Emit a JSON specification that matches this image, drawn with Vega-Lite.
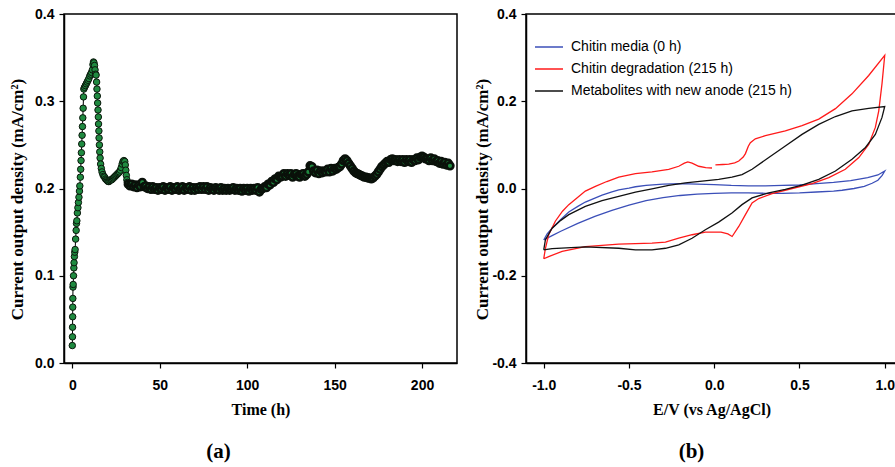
{
  "$schema": "https://vega.github.io/schema/vega-lite/v6.json",
  "padding": {"left": 7, "top": 6, "right": 0, "bottom": 0},
  "background": "white",
  "config": {
    "view": {"stroke": "black", "strokeWidth": 1.5},
    "axis": {
      "grid": false, "domainColor": "black", "domainWidth": 1.5, "tickColor": "black", "tickWidth": 1.2, "tickSize": 5,
      "labelFont": "Liberation Sans", "labelFontWeight": "bold", "labelFontSize": 14, "labelColor": "black",
      "titleFont": "Liberation Serif", "titleFontWeight": "bold", "titleFontSize": 16, "titleColor": "black"
    },
    "axisX": {"labelPadding": 10, "titlePadding": 9},
    "axisY": {"labelPadding": 5}
  },
  "datasets": {
    "a": [
      {"t":0,"v":0.020},{"t":0.1,"v":0.030},{"t":0.15,"v":0.041},{"t":0.2,"v":0.053},{"t":0.25,"v":0.064},{"t":0.3,"v":0.074},{"t":0.4,"v":0.087},{"t":0.5,"v":0.090},{"t":0.7,"v":0.100},{"t":0.9,"v":0.109},{"t":1.0,"v":0.115},{"t":1.2,"v":0.122},{"t":1.4,"v":0.127},{"t":1.6,"v":0.130},{"t":1.9,"v":0.142},{"t":2.2,"v":0.152},{"t":2.4,"v":0.160},{"t":2.6,"v":0.163},{"t":2.9,"v":0.172},{"t":3.2,"v":0.178},{"t":3.5,"v":0.184},{"t":3.8,"v":0.190},{"t":4.1,"v":0.197},{"t":4.3,"v":0.203},{"t":4.6,"v":0.213},{"t":4.8,"v":0.222},{"t":5.0,"v":0.232},{"t":5.2,"v":0.241},{"t":5.4,"v":0.251},{"t":5.6,"v":0.261},{"t":5.8,"v":0.271},{"t":6.0,"v":0.281},{"t":6.2,"v":0.292},{"t":6.4,"v":0.305},{"t":6.6,"v":0.314},{"t":7.0,"v":0.316},{"t":7.5,"v":0.318},{"t":8.0,"v":0.320},{"t":8.5,"v":0.322},{"t":9.0,"v":0.324},{"t":9.5,"v":0.326},{"t":10.0,"v":0.329},{"t":10.5,"v":0.331},{"t":11.0,"v":0.333},{"t":11.5,"v":0.336},{"t":11.8,"v":0.342},{"t":12.1,"v":0.345},{"t":12.4,"v":0.344},{"t":12.7,"v":0.341},{"t":13.0,"v":0.336},{"t":13.3,"v":0.331},{"t":13.6,"v":0.330},{"t":13.9,"v":0.322},{"t":14.1,"v":0.314},{"t":14.3,"v":0.306},{"t":14.5,"v":0.298},{"t":14.7,"v":0.290},{"t":14.9,"v":0.282},{"t":15.0,"v":0.274},{"t":15.2,"v":0.266},{"t":15.3,"v":0.258},{"t":15.5,"v":0.250},{"t":15.7,"v":0.242},{"t":15.9,"v":0.235},{"t":16.2,"v":0.228},{"t":16.6,"v":0.223},{"t":17.0,"v":0.219},{"t":17.5,"v":0.216},{"t":18.0,"v":0.214},{"t":18.5,"v":0.213},{"t":19.0,"v":0.211},{"t":19.5,"v":0.210},{"t":20.0,"v":0.209},{"t":20.5,"v":0.208},{"t":21.0,"v":0.208},{"t":21.5,"v":0.209},{"t":22.0,"v":0.210},{"t":22.5,"v":0.210},{"t":23.0,"v":0.211},{"t":23.5,"v":0.212},{"t":24.0,"v":0.213},{"t":24.5,"v":0.214},{"t":25.0,"v":0.215},{"t":25.5,"v":0.216},{"t":26.0,"v":0.217},{"t":26.5,"v":0.218},{"t":27.0,"v":0.219},{"t":27.5,"v":0.221},{"t":28.0,"v":0.224},{"t":28.5,"v":0.228},{"t":29.0,"v":0.231},{"t":29.5,"v":0.232},{"t":30.0,"v":0.231},{"t":30.3,"v":0.227},{"t":30.6,"v":0.221},{"t":30.9,"v":0.215},{"t":31.2,"v":0.210},{"t":31.5,"v":0.207},{"t":32,"v":0.205},{"t":33,"v":0.203},{"t":34,"v":0.205},{"t":35,"v":0.202},{"t":36,"v":0.204},{"t":37,"v":0.201},{"t":38,"v":0.204},{"t":39,"v":0.202},{"t":40,"v":0.207},{"t":41,"v":0.202},
      {"t":42,"v":0.203},{"t":43,"v":0.200},{"t":44,"v":0.202},{"t":45,"v":0.199},{"t":46,"v":0.202},{"t":47,"v":0.199},{"t":48,"v":0.201},{"t":49,"v":0.198},{"t":50,"v":0.201},{"t":51,"v":0.199},{"t":52,"v":0.202},{"t":53,"v":0.198},{"t":54,"v":0.201},{"t":55,"v":0.199},{"t":56,"v":0.202},{"t":57,"v":0.198},{"t":58,"v":0.201},{"t":59,"v":0.199},{"t":60,"v":0.202},{"t":61,"v":0.198},{"t":62,"v":0.200},{"t":63,"v":0.202},{"t":64,"v":0.198},{"t":65,"v":0.201},{"t":66,"v":0.199},{"t":67,"v":0.202},{"t":68,"v":0.198},{"t":69,"v":0.201},{"t":70,"v":0.198},{"t":71,"v":0.201},{"t":72,"v":0.199},{"t":73,"v":0.202},{"t":74,"v":0.199},{"t":75,"v":0.202},{"t":76,"v":0.199},{"t":77,"v":0.202},{"t":78,"v":0.198},{"t":79,"v":0.201},{"t":80,"v":0.199},{"t":81,"v":0.198},{"t":82,"v":0.201},{"t":83,"v":0.199},{"t":84,"v":0.198},{"t":85,"v":0.201},{"t":86,"v":0.198},{"t":87,"v":0.200},{"t":88,"v":0.198},{"t":89,"v":0.200},{"t":90,"v":0.198},{"t":91,"v":0.199},{"t":92,"v":0.201},{"t":93,"v":0.198},{"t":94,"v":0.200},{"t":95,"v":0.198},{"t":96,"v":0.200},{"t":97,"v":0.197},{"t":98,"v":0.200},{"t":99,"v":0.198},{"t":100,"v":0.200},{"t":101,"v":0.197},{"t":102,"v":0.200},{"t":103,"v":0.198},{"t":104,"v":0.200},{"t":105,"v":0.198},{"t":106,"v":0.201},{"t":107,"v":0.196},{"t":108,"v":0.199},{"t":109,"v":0.200},{"t":110,"v":0.202},{"t":111,"v":0.201},{"t":112,"v":0.205},{"t":113,"v":0.204},{"t":114,"v":0.208},{"t":115,"v":0.207},{"t":116,"v":0.211},{"t":117,"v":0.210},{"t":118,"v":0.214},{"t":119,"v":0.213},{"t":120,"v":0.214},{"t":121,"v":0.217},{"t":122,"v":0.214},{"t":123,"v":0.217},{"t":124,"v":0.215},{"t":125,"v":0.217},{"t":126,"v":0.213},{"t":127,"v":0.216},{"t":128,"v":0.217},{"t":129,"v":0.214},{"t":130,"v":0.213},{"t":131,"v":0.216},{"t":132,"v":0.217},{"t":133,"v":0.214},{"t":134,"v":0.216},{"t":135,"v":0.219},{"t":136,"v":0.226},{"t":137,"v":0.225},{"t":138,"v":0.220},{"t":139,"v":0.218},{"t":140,"v":0.221},{"t":141,"v":0.217},{"t":142,"v":0.220},{"t":143,"v":0.218},{"t":144,"v":0.220},{"t":145,"v":0.219},{"t":146,"v":0.222},{"t":147,"v":0.219},{"t":148,"v":0.223},{"t":149,"v":0.220},{"t":150,"v":0.223},{"t":151,"v":0.222},{"t":152,"v":0.224},{"t":153,"v":0.225},{"t":154,"v":0.228},{"t":155,"v":0.232},{"t":156,"v":0.234},{"t":157,"v":0.232},{"t":158,"v":0.229},{"t":159,"v":0.226},{"t":160,"v":0.223},{"t":161,"v":0.220},{"t":162,"v":0.218},{"t":163,"v":0.217},{"t":164,"v":0.216},{"t":165,"v":0.215},{"t":166,"v":0.214},{"t":167,"v":0.213},{"t":168,"v":0.213},{"t":169,"v":0.212},{"t":170,"v":0.212},{"t":171,"v":0.211},{"t":172,"v":0.212},{"t":173,"v":0.214},{"t":174,"v":0.216},{"t":175,"v":0.219},{"t":176,"v":0.222},{"t":177,"v":0.225},{"t":178,"v":0.227},{"t":179,"v":0.229},{"t":180,"v":0.231},{"t":181,"v":0.230},{"t":182,"v":0.233},{"t":183,"v":0.234},{"t":184,"v":0.232},{"t":185,"v":0.233},{"t":186,"v":0.231},{"t":187,"v":0.233},{"t":188,"v":0.231},{"t":189,"v":0.233},{"t":190,"v":0.230},{"t":191,"v":0.233},{"t":192,"v":0.231},{"t":193,"v":0.233},{"t":194,"v":0.230},{"t":195,"v":0.233},{"t":196,"v":0.232},{"t":197,"v":0.235},{"t":198,"v":0.233},{"t":199,"v":0.236},{"t":200,"v":0.237},{"t":201,"v":0.236},{"t":202,"v":0.234},{"t":203,"v":0.234},{"t":204,"v":0.232},{"t":205,"v":0.235},{"t":206,"v":0.232},{"t":207,"v":0.234},{"t":208,"v":0.231},{"t":209,"v":0.232},{"t":210,"v":0.229},{"t":211,"v":0.231},{"t":212,"v":0.228},{"t":213,"v":0.230},{"t":214,"v":0.227},{"t":215,"v":0.229},{"t":216,"v":0.226}
    ],
    "b": [
      {"s":"Chitin media (0 h)","i":0,"E":-1.0,"I":-0.118},{"s":"Chitin media (0 h)","i":1,"E":-0.98,"I":-0.104},{"s":"Chitin media (0 h)","i":2,"E":-0.951,"I":-0.091},{"s":"Chitin media (0 h)","i":3,"E":-0.9,"I":-0.071},{"s":"Chitin media (0 h)","i":4,"E":-0.853,"I":-0.054},{"s":"Chitin media (0 h)","i":5,"E":-0.8,"I":-0.041},{"s":"Chitin media (0 h)","i":6,"E":-0.756,"I":-0.031},{"s":"Chitin media (0 h)","i":7,"E":-0.7,"I":-0.022},{"s":"Chitin media (0 h)","i":8,"E":-0.658,"I":-0.015},{"s":"Chitin media (0 h)","i":9,"E":-0.6,"I":-0.008},{"s":"Chitin media (0 h)","i":10,"E":-0.56,"I":-0.003},{"s":"Chitin media (0 h)","i":11,"E":-0.5,"I":0.001},{"s":"Chitin media (0 h)","i":12,"E":-0.462,"I":0.004},{"s":"Chitin media (0 h)","i":13,"E":-0.4,"I":0.007},{"s":"Chitin media (0 h)","i":14,"E":-0.3,"I":0.010},{"s":"Chitin media (0 h)","i":15,"E":-0.2,"I":0.011},{"s":"Chitin media (0 h)","i":16,"E":-0.1,"I":0.010},{"s":"Chitin media (0 h)","i":17,"E":0.0,"I":0.009},{"s":"Chitin media (0 h)","i":18,"E":0.1,"I":0.007},{"s":"Chitin media (0 h)","i":19,"E":0.2,"I":0.006},{"s":"Chitin media (0 h)","i":20,"E":0.3,"I":0.006},{"s":"Chitin media (0 h)","i":21,"E":0.4,"I":0.007},{"s":"Chitin media (0 h)","i":22,"E":0.5,"I":0.008},{"s":"Chitin media (0 h)","i":23,"E":0.6,"I":0.011},{"s":"Chitin media (0 h)","i":24,"E":0.7,"I":0.014},{"s":"Chitin media (0 h)","i":25,"E":0.8,"I":0.018},{"s":"Chitin media (0 h)","i":26,"E":0.9,"I":0.025},{"s":"Chitin media (0 h)","i":27,"E":0.96,"I":0.031},{"s":"Chitin media (0 h)","i":28,"E":1.0,"I":0.040},{"s":"Chitin media (0 h)","i":29,"E":0.985,"I":0.030},{"s":"Chitin media (0 h)","i":30,"E":0.96,"I":0.019},{"s":"Chitin media (0 h)","i":31,"E":0.926,"I":0.012},{"s":"Chitin media (0 h)","i":32,"E":0.88,"I":0.005},{"s":"Chitin media (0 h)","i":33,"E":0.82,"I":0.0},{"s":"Chitin media (0 h)","i":34,"E":0.75,"I":-0.004},{"s":"Chitin media (0 h)","i":35,"E":0.7,"I":-0.006},{"s":"Chitin media (0 h)","i":36,"E":0.6,"I":-0.008},{"s":"Chitin media (0 h)","i":37,"E":0.5,"I":-0.010},{"s":"Chitin media (0 h)","i":38,"E":0.4,"I":-0.011},{"s":"Chitin media (0 h)","i":39,"E":0.3,"I":-0.011},{"s":"Chitin media (0 h)","i":40,"E":0.2,"I":-0.010},{"s":"Chitin media (0 h)","i":41,"E":0.1,"I":-0.010},{"s":"Chitin media (0 h)","i":42,"E":0.0,"I":-0.011},{"s":"Chitin media (0 h)","i":43,"E":-0.1,"I":-0.013},{"s":"Chitin media (0 h)","i":44,"E":-0.2,"I":-0.016},{"s":"Chitin media (0 h)","i":45,"E":-0.3,"I":-0.021},{"s":"Chitin media (0 h)","i":46,"E":-0.4,"I":-0.028},{"s":"Chitin media (0 h)","i":47,"E":-0.5,"I":-0.038},{"s":"Chitin media (0 h)","i":48,"E":-0.6,"I":-0.050},{"s":"Chitin media (0 h)","i":49,"E":-0.7,"I":-0.064},{"s":"Chitin media (0 h)","i":50,"E":-0.8,"I":-0.080},{"s":"Chitin media (0 h)","i":51,"E":-0.9,"I":-0.098},{"s":"Chitin media (0 h)","i":52,"E":-0.951,"I":-0.108},{"s":"Chitin media (0 h)","i":53,"E":-1.0,"I":-0.118},
      {"s":"Chitin degradation (215 h)","i":0,"E":-1.0,"I":-0.161},{"s":"Chitin degradation (215 h)","i":1,"E":-0.99,"I":-0.137},{"s":"Chitin degradation (215 h)","i":2,"E":-0.971,"I":-0.106},{"s":"Chitin degradation (215 h)","i":3,"E":-0.932,"I":-0.075},{"s":"Chitin degradation (215 h)","i":4,"E":-0.89,"I":-0.052},{"s":"Chitin degradation (215 h)","i":5,"E":-0.853,"I":-0.037},{"s":"Chitin degradation (215 h)","i":6,"E":-0.8,"I":-0.02},{"s":"Chitin degradation (215 h)","i":7,"E":-0.756,"I":-0.006},{"s":"Chitin degradation (215 h)","i":8,"E":-0.697,"I":0.005},{"s":"Chitin degradation (215 h)","i":9,"E":-0.63,"I":0.016},{"s":"Chitin degradation (215 h)","i":10,"E":-0.56,"I":0.026},{"s":"Chitin degradation (215 h)","i":11,"E":-0.462,"I":0.034},{"s":"Chitin degradation (215 h)","i":12,"E":-0.365,"I":0.038},{"s":"Chitin degradation (215 h)","i":13,"E":-0.267,"I":0.044},{"s":"Chitin degradation (215 h)","i":14,"E":-0.208,"I":0.051},{"s":"Chitin degradation (215 h)","i":15,"E":-0.175,"I":0.058},{"s":"Chitin degradation (215 h)","i":16,"E":-0.155,"I":0.061},{"s":"Chitin degradation (215 h)","i":17,"E":-0.13,"I":0.058},{"s":"Chitin degradation (215 h)","i":18,"E":-0.091,"I":0.051},{"s":"Chitin degradation (215 h)","i":19,"E":-0.05,"I":0.048},{"s":"Chitin degradation (215 h)","i":20,"E":-0.013,"I":0.047},{"s":"Chitin degradation (215 h)","i":21,"E":-0.003,"I":null},{"s":"Chitin degradation (215 h)","i":22,"E":0.007,"I":0.054},{"s":"Chitin degradation (215 h)","i":23,"E":0.05,"I":0.055},{"s":"Chitin degradation (215 h)","i":24,"E":0.085,"I":0.056},{"s":"Chitin degradation (215 h)","i":25,"E":0.12,"I":0.059},{"s":"Chitin degradation (215 h)","i":26,"E":0.144,"I":0.063},{"s":"Chitin degradation (215 h)","i":27,"E":0.17,"I":0.072},{"s":"Chitin degradation (215 h)","i":28,"E":0.183,"I":0.08},{"s":"Chitin degradation (215 h)","i":29,"E":0.2,"I":0.097},{"s":"Chitin degradation (215 h)","i":30,"E":0.212,"I":0.105},{"s":"Chitin degradation (215 h)","i":31,"E":0.241,"I":0.114},{"s":"Chitin degradation (215 h)","i":32,"E":0.3,"I":0.121},{"s":"Chitin degradation (215 h)","i":33,"E":0.417,"I":0.132},{"s":"Chitin degradation (215 h)","i":34,"E":0.515,"I":0.144},{"s":"Chitin degradation (215 h)","i":35,"E":0.613,"I":0.159},{"s":"Chitin degradation (215 h)","i":36,"E":0.711,"I":0.183},{"s":"Chitin degradation (215 h)","i":37,"E":0.808,"I":0.217},{"s":"Chitin degradation (215 h)","i":38,"E":0.906,"I":0.259},{"s":"Chitin degradation (215 h)","i":39,"E":1.0,"I":0.305},{"s":"Chitin degradation (215 h)","i":40,"E":0.984,"I":0.24},{"s":"Chitin degradation (215 h)","i":41,"E":0.965,"I":0.178},{"s":"Chitin degradation (215 h)","i":42,"E":0.945,"I":0.14},{"s":"Chitin degradation (215 h)","i":43,"E":0.906,"I":0.101},{"s":"Chitin degradation (215 h)","i":44,"E":0.848,"I":0.071},{"s":"Chitin degradation (215 h)","i":45,"E":0.769,"I":0.044},{"s":"Chitin degradation (215 h)","i":46,"E":0.672,"I":0.025},{"s":"Chitin degradation (215 h)","i":47,"E":0.574,"I":0.011},{"s":"Chitin degradation (215 h)","i":48,"E":0.457,"I":0.0},{"s":"Chitin degradation (215 h)","i":49,"E":0.339,"I":-0.012},{"s":"Chitin degradation (215 h)","i":50,"E":0.261,"I":-0.023},{"s":"Chitin degradation (215 h)","i":51,"E":0.222,"I":-0.033},{"s":"Chitin degradation (215 h)","i":52,"E":0.183,"I":-0.06},{"s":"Chitin degradation (215 h)","i":53,"E":0.144,"I":-0.087},{"s":"Chitin degradation (215 h)","i":54,"E":0.105,"I":-0.11},{"s":"Chitin degradation (215 h)","i":55,"E":0.08,"I":-0.104},{"s":"Chitin degradation (215 h)","i":56,"E":0.04,"I":-0.10},{"s":"Chitin degradation (215 h)","i":57,"E":0.007,"I":-0.10},{"s":"Chitin degradation (215 h)","i":58,"E":-0.052,"I":-0.10},{"s":"Chitin degradation (215 h)","i":59,"E":-0.13,"I":-0.106},{"s":"Chitin degradation (215 h)","i":60,"E":-0.208,"I":-0.114},{"s":"Chitin degradation (215 h)","i":61,"E":-0.286,"I":-0.123},{"s":"Chitin degradation (215 h)","i":62,"E":-0.365,"I":-0.125},{"s":"Chitin degradation (215 h)","i":63,"E":-0.56,"I":-0.1275},{"s":"Chitin degradation (215 h)","i":64,"E":-0.756,"I":-0.133},{"s":"Chitin degradation (215 h)","i":65,"E":-0.892,"I":-0.144},{"s":"Chitin degradation (215 h)","i":66,"E":-0.971,"I":-0.156},{"s":"Chitin degradation (215 h)","i":67,"E":-1.0,"I":-0.161},
      {"s":"Metabolites with new anode (215 h)","i":0,"E":-1.0,"I":-0.1405},{"s":"Metabolites with new anode (215 h)","i":1,"E":-0.99,"I":-0.1175},{"s":"Metabolites with new anode (215 h)","i":2,"E":-0.951,"I":-0.091},{"s":"Metabolites with new anode (215 h)","i":3,"E":-0.9,"I":-0.073},{"s":"Metabolites with new anode (215 h)","i":4,"E":-0.853,"I":-0.06},{"s":"Metabolites with new anode (215 h)","i":5,"E":-0.756,"I":-0.041},{"s":"Metabolites with new anode (215 h)","i":6,"E":-0.658,"I":-0.028},{"s":"Metabolites with new anode (215 h)","i":7,"E":-0.56,"I":-0.018},{"s":"Metabolites with new anode (215 h)","i":8,"E":-0.462,"I":-0.0085},{"s":"Metabolites with new anode (215 h)","i":9,"E":-0.365,"I":-0.001},{"s":"Metabolites with new anode (215 h)","i":10,"E":-0.267,"I":0.007},{"s":"Metabolites with new anode (215 h)","i":11,"E":-0.169,"I":0.013},{"s":"Metabolites with new anode (215 h)","i":12,"E":-0.071,"I":0.017},{"s":"Metabolites with new anode (215 h)","i":13,"E":0.026,"I":0.021},{"s":"Metabolites with new anode (215 h)","i":14,"E":0.104,"I":0.026},{"s":"Metabolites with new anode (215 h)","i":15,"E":0.163,"I":0.032},{"s":"Metabolites with new anode (215 h)","i":16,"E":0.222,"I":0.044},{"s":"Metabolites with new anode (215 h)","i":17,"E":0.32,"I":0.071},{"s":"Metabolites with new anode (215 h)","i":18,"E":0.417,"I":0.0975},{"s":"Metabolites with new anode (215 h)","i":19,"E":0.515,"I":0.124},{"s":"Metabolites with new anode (215 h)","i":20,"E":0.613,"I":0.147},{"s":"Metabolites with new anode (215 h)","i":21,"E":0.711,"I":0.165},{"s":"Metabolites with new anode (215 h)","i":22,"E":0.808,"I":0.178},{"s":"Metabolites with new anode (215 h)","i":23,"E":0.906,"I":0.1835},{"s":"Metabolites with new anode (215 h)","i":24,"E":1.0,"I":0.188},{"s":"Metabolites with new anode (215 h)","i":25,"E":0.984,"I":0.163},{"s":"Metabolites with new anode (215 h)","i":26,"E":0.945,"I":0.124},{"s":"Metabolites with new anode (215 h)","i":27,"E":0.887,"I":0.094},{"s":"Metabolites with new anode (215 h)","i":28,"E":0.808,"I":0.067},{"s":"Metabolites with new anode (215 h)","i":29,"E":0.711,"I":0.04},{"s":"Metabolites with new anode (215 h)","i":30,"E":0.613,"I":0.021},{"s":"Metabolites with new anode (215 h)","i":31,"E":0.515,"I":0.0077},{"s":"Metabolites with new anode (215 h)","i":32,"E":0.417,"I":-0.002},{"s":"Metabolites with new anode (215 h)","i":33,"E":0.32,"I":-0.01},{"s":"Metabolites with new anode (215 h)","i":34,"E":0.222,"I":-0.0215},{"s":"Metabolites with new anode (215 h)","i":35,"E":0.163,"I":-0.037},{"s":"Metabolites with new anode (215 h)","i":36,"E":0.104,"I":-0.056},{"s":"Metabolites with new anode (215 h)","i":37,"E":0.026,"I":-0.077},{"s":"Metabolites with new anode (215 h)","i":38,"E":-0.052,"I":-0.0945},{"s":"Metabolites with new anode (215 h)","i":39,"E":-0.13,"I":-0.114},{"s":"Metabolites with new anode (215 h)","i":40,"E":-0.208,"I":-0.129},{"s":"Metabolites with new anode (215 h)","i":41,"E":-0.286,"I":-0.137},{"s":"Metabolites with new anode (215 h)","i":42,"E":-0.365,"I":-0.1405},{"s":"Metabolites with new anode (215 h)","i":43,"E":-0.462,"I":-0.1405},{"s":"Metabolites with new anode (215 h)","i":44,"E":-0.56,"I":-0.137},{"s":"Metabolites with new anode (215 h)","i":45,"E":-0.756,"I":-0.134},{"s":"Metabolites with new anode (215 h)","i":46,"E":-0.951,"I":-0.138},{"s":"Metabolites with new anode (215 h)","i":47,"E":-1.0,"I":-0.1405}
    ]
  },
  "hconcat": [
    {
      "width": 393,
      "height": 349,
      "data": {"name": "a"},
      "title": {"text": "(a)", "orient": "bottom", "anchor": "middle", "dx": -42, "offset": 24, "font": "Liberation Serif", "fontSize": 21, "fontWeight": "bold", "color": "black"},
      "encoding": {
        "x": {"field": "t", "type": "quantitative", "scale": {"domain": [-4.75, 220], "nice": false, "zero": false}, "axis": {"values": [0, 50, 100, 150, 200], "title": "Time (h)"}},
        "y": {"field": "v", "type": "quantitative", "scale": {"domain": [0, 0.4], "nice": false}, "axis": {"values": [0, 0.1, 0.2, 0.3, 0.4], "format": ".1f", "title": "Current output density (mA/cm²)", "titlePadding": 8, "titleFontSize": 17, "titleY": 185}}
      },
      "layer": [
        {"mark": {"type": "line", "color": "black", "strokeWidth": 1}},
        {"transform": [{"filter": "datum.t < 32"}], "mark": {"type": "circle", "size": 42, "fill": "#1f8a40", "stroke": "#0b160b", "strokeWidth": 1, "opacity": 1, "fillOpacity": 1}},
        {"transform": [{"filter": "datum.t >= 32"}], "mark": {"type": "circle", "size": 46, "fill": "#1f8a40", "stroke": "#0a110a", "strokeWidth": 2.6, "opacity": 1, "fillOpacity": 1}}
      ]
    },
    {
      "width": 371,
      "height": 349,
      "data": {"name": "b"},
      "title": {"text": "(b)", "orient": "bottom", "anchor": "middle", "dx": -20, "offset": 24, "font": "Liberation Serif", "fontSize": 21, "fontWeight": "bold", "color": "black"},
      "mark": {"type": "line", "strokeWidth": 1.3},
      "encoding": {
        "x": {"field": "E", "type": "quantitative", "scale": {"domain": [-1.104, 1.072], "nice": false, "zero": false}, "axis": {"values": [-1, -0.5, 0, 0.5, 1], "labelExpr": "replace(format(datum.value, '.1f'), '\u2212', '-')", "title": "E/V (vs Ag/AgCl)"}},
        "y": {"field": "I", "type": "quantitative", "scale": {"domain": [-0.4, 0.4], "nice": false}, "axis": {"values": [-0.4, -0.2, 0, 0.2, 0.4], "labelExpr": "replace(format(datum.value, '.1f'), '\u2212', '-')", "title": "Current output density (mA/cm²)", "titlePadding": 0, "titleFontSize": 17, "titleY": 185}},
        "order": {"field": "i", "type": "quantitative"},
        "color": {
          "field": "s", "type": "nominal",
          "scale": {"domain": ["Chitin media (0 h)", "Chitin degradation (215 h)", "Metabolites with new anode (215 h)"], "range": ["#3b4fb8", "#ff1a1a", "#111111"]},
          "legend": {"title": null, "orient": "none", "legendX": 470, "legendY": 18, "symbolType": "stroke", "symbolSize": 784, "symbolStrokeWidth": 1.5, "labelFont": "Liberation Sans", "labelFontSize": 14, "labelColor": "black", "labelLimit": 400, "rowPadding": -2, "labelOffset": 7, "padding": 0}
        }
      }
    }
  ],
  "spacing": 69,
  "bounds": "flush"
}
